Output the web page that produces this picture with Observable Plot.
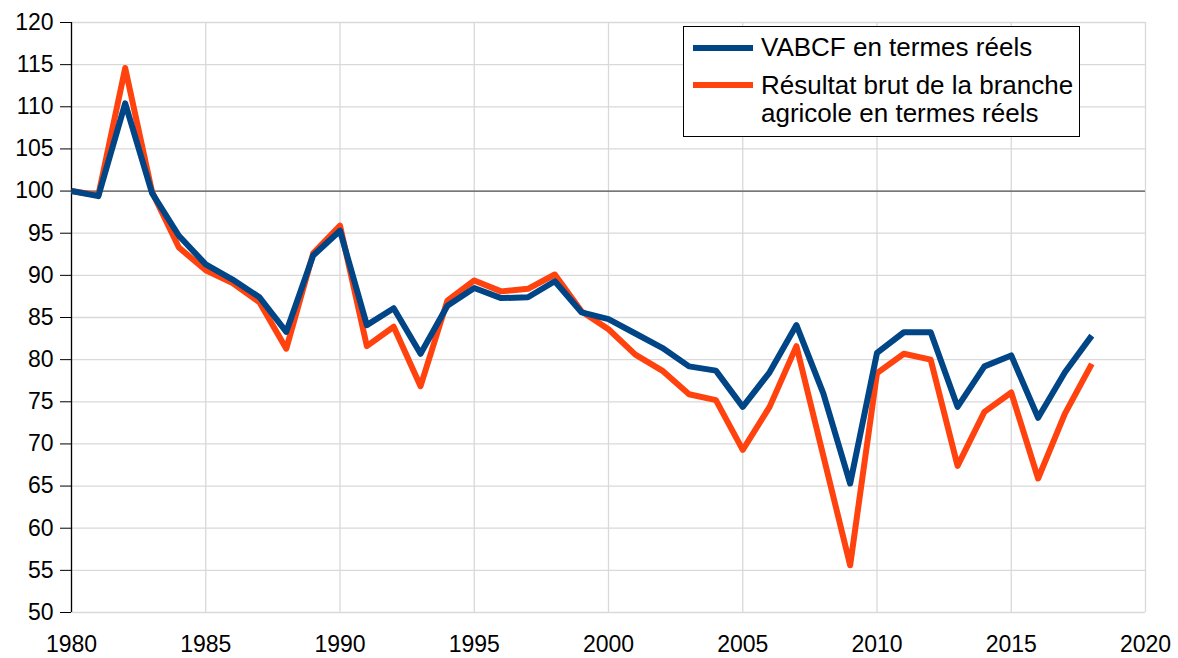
<!DOCTYPE html>
<html>
<head>
<meta charset="utf-8">
<script src="https://cdn.jsdelivr.net/npm/d3@7"></script>
<script src="https://cdn.jsdelivr.net/npm/@observablehq/plot@0.6"></script>
<style>
  html, body { margin: 0; padding: 0; background: #ffffff; }
  #wrap { position: relative; width: 1178px; height: 658px; font-family: "Liberation Sans", Arial, sans-serif; }
  #legend { position: absolute; left: 683px; top: 26px; width: 397px; height: 111px; border: 1px solid #000; background: #fff; box-sizing: border-box; }
  .sw { position: absolute; left: 9px; width: 60px; height: 6px; }
  .lt { position: absolute; left: 77px; font-size: 26px; line-height: 28px; color: #000; white-space: nowrap; }
</style>
</head>
<body>
<div id="wrap">
  <div id="chart"></div>
  <div id="legend">
    <div class="sw" style="top:18px;background:#004586"></div>
    <div class="lt" style="top:6px">VABCF en termes réels</div>
    <div class="sw" style="top:55px;background:#ff420e"></div>
    <div class="lt" style="top:44px">Résultat brut de la branche<br>agricole en termes réels</div>
  </div>
</div>
<script>
const years = [1980,1981,1982,1983,1984,1985,1986,1987,1988,1989,1990,1991,1992,1993,1994,1995,1996,1997,1998,1999,2000,2001,2002,2003,2004,2005,2006,2007,2008,2009,2010,2011,2012,2013,2014,2015,2016,2017,2018];
const vabcf = [100,99.4,110.4,99.75,94.7,91.3,89.5,87.4,83.3,92.35,95.3,84.1,86.1,80.7,86.4,88.5,87.3,87.4,89.3,85.6,84.8,83.1,81.4,79.2,78.7,74.4,78.5,84.1,76.0,65.3,80.8,83.25,83.25,74.4,79.2,80.5,73.1,78.5,82.85];
const resultat = [100,99.5,114.6,99.9,93.3,90.6,89.1,86.8,81.3,92.6,95.9,81.6,83.9,76.85,87.0,89.4,88.1,88.4,90.1,85.7,83.6,80.6,78.7,75.9,75.2,69.3,74.4,81.6,68.6,55.6,78.4,80.7,80.0,67.4,73.8,76.1,65.9,73.6,79.5];
const xTicks = [1980,1985,1990,1995,2000,2005,2010,2015,2020];
const yTicks = [50,55,60,65,70,75,80,85,90,95,100,105,110,115,120];
const refLine = [100];

const rowsV = years.map((y, i) => ({year: y, value: vabcf[i]}));
const rowsR = years.map((y, i) => ({year: y, value: resultat[i]}));

const chart = Plot.plot({
  width: 1178,
  height: 658,
  marginLeft: 71,
  marginRight: 33,
  marginTop: 22,
  marginBottom: 46,
  style: {fontFamily: "'Liberation Sans', Arial, sans-serif", fontSize: "23px", color: "#000", background: "#fff"},
  x: {domain: [1980, 2020], label: null},
  y: {domain: [50, 120], label: null},
  marks: [
    Plot.ruleY(yTicks, {stroke: "#d9d9d9", strokeWidth: 1.3}),
    Plot.ruleX(xTicks, {stroke: "#d9d9d9", strokeWidth: 1.3}),
    Plot.ruleY(refLine, {stroke: "#555", strokeWidth: 1.3}),
    Plot.ruleX([xTicks[0]], {stroke: "#000", strokeWidth: 1.3}),
    Plot.axisY({ticks: yTicks, tickSize: 11, tickPadding: 7, fontSize: 23, stroke: "#000", tickFormat: d => String(d)}),
    Plot.axisX({ticks: xTicks, tickSize: 0, tickPadding: 23, fontSize: 23, tickFormat: d => String(d)}),
    Plot.line(rowsR, {x: "year", y: "value", stroke: "#ff420e", strokeWidth: 6, strokeLinejoin: "round", strokeLinecap: "butt"}),
    Plot.line(rowsV, {x: "year", y: "value", stroke: "#004586", strokeWidth: 6, strokeLinejoin: "round", strokeLinecap: "butt"})
  ]
});
document.getElementById("chart").appendChild(chart);
</script>
</body>
</html>
